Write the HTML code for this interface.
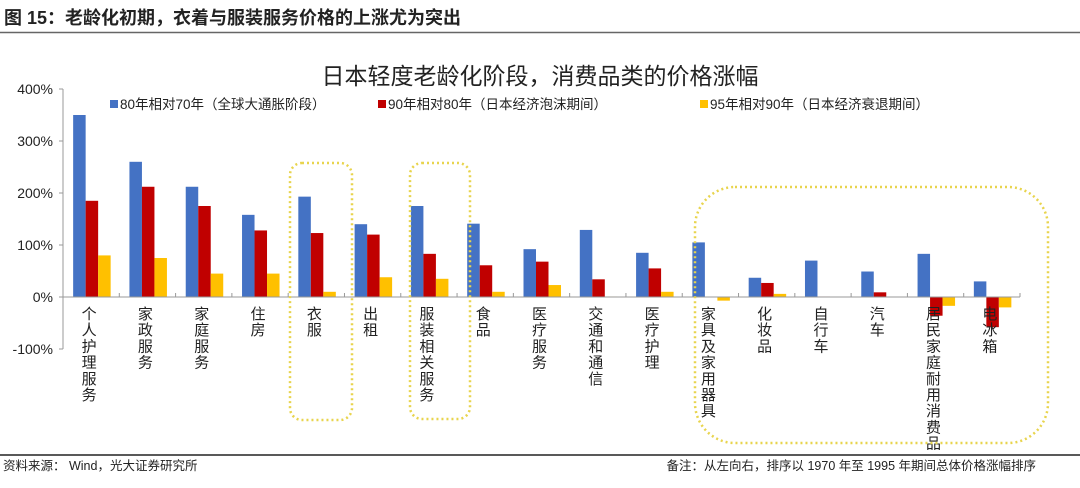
<!DOCTYPE html>
<html><head><meta charset="utf-8">
<style>
body{margin:0;background:#fff;width:1080px;height:483px;overflow:hidden;font-family:"Liberation Sans","Noto Sans CJK SC",sans-serif;}
</style></head>
<body>
<svg id="c" width="1080" height="483" xmlns="http://www.w3.org/2000/svg" font-family="Liberation Sans, Noto Sans CJK SC, sans-serif">
<text x="4" y="24" font-size="18" font-weight="bold" fill="#222">图 15：老龄化初期，衣着与服装服务价格的上涨尤为突出</text>
<line x1="0" y1="32.5" x2="1080" y2="32.5" stroke="#666" stroke-width="1.5"/>
<text x="540" y="84" text-anchor="middle" font-size="23" fill="#222">日本轻度老龄化阶段，消费品类的价格涨幅</text>
<g font-size="13.5" fill="#222">
<rect x="110" y="100" width="8" height="8" fill="#4472C4"/><text x="120" y="109">80年相对70年（全球大通胀阶段）</text>
<rect x="378" y="100" width="8" height="8" fill="#C00000"/><text x="388" y="109">90年相对80年（日本经济泡沫期间）</text>
<rect x="700" y="100" width="8" height="8" fill="#FFC000"/><text x="710" y="109">95年相对90年（日本经济衰退期间）</text>
</g>
<g id="plot"></g>
<g fill="none" stroke="#E8D44D" stroke-width="2.5" stroke-dasharray="2 3">
<rect x="290" y="163" width="62" height="257" rx="12"/>
<rect x="410" y="163" width="60" height="256" rx="12"/>
<rect x="695" y="187" width="353" height="256" rx="40"/>
</g>
<line x1="0" y1="455" x2="1080" y2="455" stroke="#222" stroke-width="1.5"/>
<text x="3" y="470" font-size="12.5" fill="#222">资料来源：  Wind，光大证券研究所</text>
<text x="1036" y="470" text-anchor="end" font-size="12.5" fill="#222">备注：从左向右，排序以 1970 年至 1995 年期间总体价格涨幅排序</text>
</svg>
<script>
const categories=["个人护理服务","家政服务","家庭服务","住房","衣服","出租","服装相关服务","食品","医疗服务","交通和通信","医疗护理","家具及家用器具","化妆品","自行车","汽车","居民家庭耐用消费品","电冰箱"];
const s80=[350,260,212,158,193,140,175,141,92,129,85,105,37,70,49,83,30];
const s90=[185,212,175,128,123,120,83,61,68,34,55,0,27,1,9,-36,-58];
const s95=[80,75,45,45,10,38,35,10,23,1,10,-7,6,0,0,-17,-20];
const yTicks=[-100,0,100,200,300,400];
const yTickLabels=["-100%","0%","100%","200%","300%","400%"];
const colors=["#4472C4","#C00000","#FFC000"];
const seriesNames=["s80","s90","s95"];
const NS="http://www.w3.org/2000/svg";
const X0=63,X1=1020,Y0=297,PX=0.52;
const y=v=>Y0-v*PX;
const step=(X1-X0)/categories.length;
const x=i=>X0+step*i+step/2;
const g=document.getElementById('plot');
function mk(t,a){const e=document.createElementNS(NS,t);for(const k in a)e.setAttribute(k,a[k]);g.appendChild(e);return e;}
const ax=mk('line',{x1:X0,y1:y(400),x2:X0,y2:y(-100),stroke:'#999'});


yTicks.forEach((v,i)=>{
 const t=mk('line',{x1:X0-4,x2:X0,y1:y(v),y2:y(v),stroke:'#999'});
 
 
 const l=mk('text',{x:X0-10,y:y(v)+5,'text-anchor':'end','font-size':14,fill:'#222'});
 l.textContent=yTickLabels[i];
 
 
});
[s80,s90,s95].forEach((s,j)=>{
 s.forEach((v,i)=>{
  const bx=x(i)-18+j*12.5;
  const r=mk('rect',{x:bx,y:Math.min(y(v),Y0),width:12.5,height:Math.abs(y(v)-Y0),fill:colors[j]});
  
  
 });
});
const xa=mk('line',{x1:X0,y1:Y0,x2:X1,y2:Y0,stroke:'#999'});


categories.forEach((c,i)=>{
 const t=mk('line',{x1:X0+step*(i+1),x2:X0+step*(i+1),y1:Y0,y2:Y0-4,stroke:'#999'});
 
 
 const l=mk('text',{x:x(i)-2,y:Y0+22,'text-anchor':'middle','font-size':15,fill:'#222'});
 
 
 [...c].forEach((ch,k)=>{const ts=document.createElementNS(NS,'tspan');ts.setAttribute('x',x(i)-2);ts.setAttribute('y',Y0+22+k*16.2);ts.textContent=ch;l.appendChild(ts);});
});
</script>
</body></html>
